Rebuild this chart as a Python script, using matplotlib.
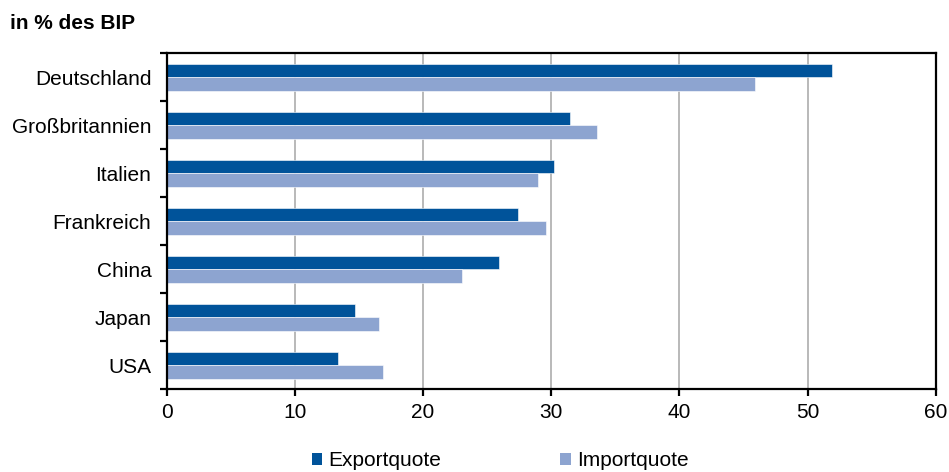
import matplotlib
matplotlib.use("Agg")
import matplotlib.pyplot as plt
from matplotlib.patches import Patch
from matplotlib.ticker import FixedLocator
import numpy as np

plt.rcParams['font.family'] = ['Liberation Sans', 'DejaVu Sans']

countries = ["Deutschland", "Großbritannien", "Italien", "Frankreich", "China", "Japan", "USA"]
exportquote = [51.9, 31.5, 30.2, 27.4, 25.9, 14.7, 13.4]
importquote = [45.9, 33.6, 29.0, 29.6, 23.0, 16.6, 16.9]
series_names = ["Exportquote", "Importquote"]
x_ticks = [0, 10, 20, 30, 40, 50, 60]

dark_blue = "#00539A"
light_blue = "#8DA4D0"
fs = 15

fig = plt.figure(figsize=(9.49, 4.72), dpi=100)
ax = fig.add_axes([0.1757, 0.175, 0.8103, 0.712])

y = np.arange(len(countries))
h = 0.28
ax.barh(y - h / 2, exportquote, height=h, color=dark_blue, edgecolor="white", linewidth=0.4, zorder=3)
ax.barh(y + h / 2, importquote, height=h, color=light_blue, edgecolor="white", linewidth=0.4, zorder=3)

ax.set_xlim(0, 60)
ax.set_ylim(len(countries) - 0.5, -0.5)
ax.set_xticks(x_ticks)
ax.set_xticklabels([str(v) for v in x_ticks])
ax.set_yticks(y)
ax.set_yticklabels(countries)
ax.yaxis.set_minor_locator(FixedLocator(np.arange(len(countries) + 1) - 0.5))

ax.grid(axis="x", color="#b3b3b3", linewidth=1.3, zorder=0)
for s in ax.spines.values():
    s.set_linewidth(1.6)
    s.set_color("black")
    s.set_zorder(4)

ax.tick_params(axis="x", which="major", direction="out", length=5, width=1.6, labelsize=fs, pad=5)
ax.tick_params(axis="y", which="major", length=0, labelsize=fs, pad=11)
ax.tick_params(axis="y", which="minor", direction="out", length=5, width=1.6)

fig.text(10 / 949, 1 - 29 / 472, "in % des BIP", fontsize=fs, fontweight="bold", ha="left", va="baseline")

handles = [Patch(facecolor=dark_blue, edgecolor="none"), Patch(facecolor=light_blue, edgecolor="none")]
fig.legend(handles, series_names, loc="upper left", bbox_to_anchor=(312 / 949, 1 - 451 / 472),
           ncol=2, frameon=False, fontsize=fs, handlelength=0.5, handleheight=0.5,
           handletextpad=0.3, columnspacing=5.7, borderpad=0, borderaxespad=0)

fig.savefig("out.png", dpi=100)
